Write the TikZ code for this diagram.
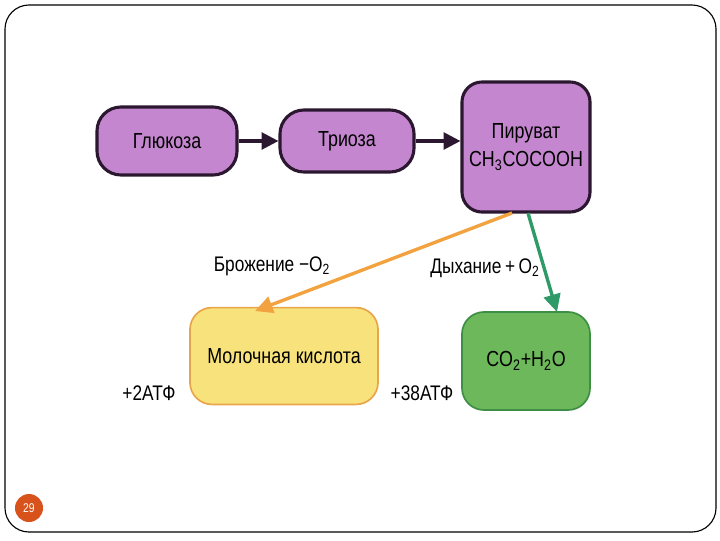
\documentclass[tikz,border=0pt]{standalone}
\usepackage{fontspec}
\setmainfont{Liberation Sans}[FakeStretch=0.82]
\usepackage{xcolor}
\usetikzlibrary{arrows.meta, positioning}

\definecolor{violetfill}{HTML}{C486CE}
\definecolor{darkedge}{HTML}{2B1830}
\definecolor{yellowfill}{HTML}{F8E27C}
\definecolor{yellowedge}{HTML}{E9A54A}
\definecolor{greenfill}{HTML}{6DB85A}
\definecolor{greenedge}{HTML}{3E8F45}
\definecolor{orangearrow}{HTML}{F2A23E}
\definecolor{greenarrow}{HTML}{2E9A68}
\definecolor{pagedot}{HTML}{D8521C}

\begin{document}
\begin{tikzpicture}[
    x=0.025cm, y=-0.025cm,
    font=\fontsize{15.5}{17}\selectfont,
    stage/.style={
        draw=darkedge,
        fill=violetfill,
        line width=2.2pt,
        rounded corners=0.6cm,
        align=center
    },
    product/.style={
        line width=1.2pt,
        rounded corners=0.55cm,
        align=center
    },
    arrow/.style={
        -{Triangle[length=4.2mm, width=4.2mm]},
        line width=2.2pt,
        draw=darkedge
    },
    path_arrow/.style={
        -{Triangle[length=4.4mm, width=4.2mm]},
        line width=2.4pt
    },
    note/.style={
        font=\fontsize{15}{17}\selectfont
    }
]
\useasboundingbox (0,0) rectangle (720,540);

% Slide frame
\draw[line width=0.8pt, rounded corners=0.6cm] (5,5) rectangle (716,532);

% Top row
\node[stage, minimum width=3.5cm, minimum height=1.7cm] (glucose) at (167,141) {Глюкоза};
\node[stage, minimum width=3.35cm, minimum height=1.55cm] (triose) at (347,141) {Триоза};
\node[stage, rounded corners=0.5cm, minimum width=3.2cm, minimum height=3.25cm] (pyruvate) at (526,147)
    {Пируват\\[3pt]CH\textsubscript{3}COCOOH};

% Arrows
\draw[arrow] (glucose) -- (triose);
\draw[arrow] (triose.east) -- (triose.east -| pyruvate.west);

% Products
\node[product, draw=yellowedge, fill=yellowfill, minimum width=4.7cm, minimum height=2.42cm] (lactic) at (284,356) {Молочная кислота};
\node[product, draw=greenedge, fill=greenfill, minimum width=3.2cm, minimum height=2.45cm] (water) at (526,361) {CO\textsubscript{2}+H\textsubscript{2}O};

% Branches
\coordinate (ferm_start) at (512,213);
\coordinate (ferm_end) at (255,311);
\coordinate (resp_start) at (528,213);
\coordinate (resp_end) at (557,312);
\draw[path_arrow, draw=orangearrow] (ferm_start) -- (ferm_end);
\draw[path_arrow, draw=greenarrow] (resp_start) -- (resp_end);

% Labels
\node[note] (ferm) at (272,266) {Брожение −O\textsubscript{2}};
\node[note] (resp) at (485,268) {Дыхание\,+\,O\textsubscript{2}};
\node[note] (atp2) at (149,393) {+2АТФ};
\node[note] (atp38) at (422,393) {+38АТФ};

% Page number
\node[circle, fill=pagedot, minimum size=0.7cm, inner sep=0pt, text=white, font=\fontsize{9}{10}\selectfont] (page) at (29,508) {29};

\end{tikzpicture}
\end{document}
